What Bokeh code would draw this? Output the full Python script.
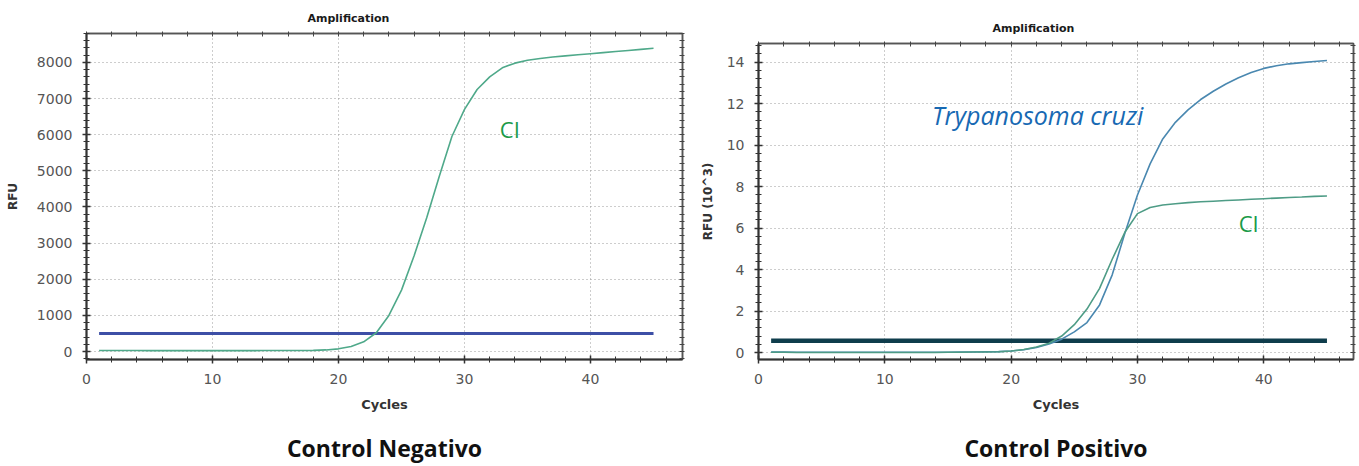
from bokeh.plotting import figure
from bokeh.models import (Range1d, SingleIntervalTicker, FixedTicker, LinearAxis,
                          Label, Spacer)
from bokeh.layouts import row, column
from bokeh.embed import file_html
from bokeh.resources import INLINE

# ---------------- data ----------------
cycles = list(range(1, 46))

# Control Negativo: internal control (CI) curve, RFU
neg_ci = [28, 28, 27, 27, 26, 26, 26, 25, 25, 25, 25, 26, 26, 27, 28,
          29, 30, 33, 45, 75, 140, 270, 520, 1000, 1700, 2650, 3700, 4850,
          5950, 6700, 7250, 7600, 7850, 7980, 8060, 8110, 8150, 8180, 8210,
          8240, 8270, 8300, 8330, 8360, 8390]
neg_threshold = 500

# Control Positivo: RFU (10^3)
pos_tc = [0.03, 0.03, 0.02, 0.02, 0.02, 0.02, 0.02, 0.02, 0.02, 0.02, 0.02,
          0.02, 0.02, 0.02, 0.02, 0.03, 0.03, 0.04, 0.05, 0.08, 0.14, 0.25,
          0.42, 0.65, 1.0, 1.45, 2.3, 3.75, 5.75, 7.6, 9.1, 10.3, 11.1, 11.7,
          12.2, 12.6, 12.95, 13.25, 13.5, 13.7, 13.83, 13.92, 13.98, 14.03,
          14.08]
pos_ci = [0.02, 0.02, 0.01, 0.01, 0.01, 0.01, 0.01, 0.01, 0.01, 0.01, 0.01,
          0.01, 0.01, 0.01, 0.02, 0.02, 0.03, 0.03, 0.04, 0.08, 0.15, 0.27,
          0.45, 0.8, 1.35, 2.1, 3.1, 4.5, 5.8, 6.7, 7.0, 7.12, 7.18, 7.23,
          7.27, 7.3, 7.33, 7.36, 7.39, 7.42, 7.45, 7.48, 7.5, 7.53, 7.55]
pos_threshold = 0.57

threshold_x = [1, 45]

TICK_FONT = "DejaVu Sans"


def make_panel(width, height, xmax, ymin, ymax, yint, ylabel,
               mb_left, mb_right, mb_top, mb_bottom, ylab_standoff,
               title_offset, caption):
    p = figure(width=width, height=height,
               x_range=Range1d(0, xmax), y_range=Range1d(ymin, ymax),
               output_backend="svg", toolbar_location=None,
               min_border_left=mb_left, min_border_right=mb_right,
               min_border_top=mb_top, min_border_bottom=mb_bottom)
    p.background_fill_color = "white"
    p.border_fill_color = "white"
    p.outline_line_color = "#444444"
    p.outline_line_width = 1.5

    p.title.text = "Amplification"
    p.title.align = "left"
    p.title.offset = title_offset
    p.title.text_font = TICK_FONT
    p.title.text_font_size = "11px"
    p.title.text_font_style = "bold"
    p.title.text_color = "#1a1a1a"
    p.title.standoff = 13

    xt = SingleIntervalTicker(interval=10, num_minor_ticks=5)
    yt = SingleIntervalTicker(interval=yint, num_minor_ticks=5)

    ax = p.xaxis[0]
    ax.ticker = xt
    ax.axis_label = "Cycles"
    ax.axis_label_text_font = TICK_FONT
    ax.axis_label_text_font_size = "13px"
    ax.axis_label_text_font_style = "bold"
    ax.axis_label_text_color = "#333333"
    ax.axis_label_standoff = 10
    ax.major_label_standoff = 10
    ay = p.yaxis[0]
    ay.ticker = yt
    ay.axis_label = ylabel
    ay.axis_label_text_font = TICK_FONT
    ay.axis_label_text_font_size = "12px"
    ay.axis_label_text_font_style = "bold"
    ay.axis_label_text_color = "#333333"
    ay.axis_label_standoff = ylab_standoff
    ay.major_label_standoff = 10
    for a in (ax, ay):
        a.major_label_text_font = TICK_FONT
        a.major_label_text_font_size = "14px"
        a.major_label_text_color = "#555555"
        a.axis_line_color = "#333333"
        a.axis_line_width = 2
        a.major_tick_line_color = "#333333"
        a.minor_tick_line_color = "#333333"
        a.major_tick_line_width = 1.5
        a.major_tick_in = 4
        a.major_tick_out = 4
        a.minor_tick_in = 3
        a.minor_tick_out = 3

    # frame ticks on top and right (tick marks only, no labels)
    top_ticks = [2 * i for i in range(int(xmax / 2) + 1)]
    step = yint / 5.0
    right_ticks = [step * i for i in range(int(ymin / step), int(ymax / step) + 1)]
    for ticks, side in ((top_ticks, "above"), (right_ticks, "right")):
        a = LinearAxis(ticker=FixedTicker(ticks=[], minor_ticks=ticks))
        a.axis_line_color = "#555555"
        a.axis_line_width = 1.5
        a.minor_tick_line_color = "#444444"
        a.minor_tick_in = 3
        a.minor_tick_out = 2
        a.major_tick_in = 0
        a.major_tick_out = 0
        a.major_label_standoff = 0
        p.add_layout(a, side)

    # caption below the chart
    cap = LinearAxis(ticker=FixedTicker(ticks=[]), axis_label=caption)
    cap.axis_line_color = None
    cap.major_tick_in = 0
    cap.major_tick_out = 0
    cap.minor_tick_in = 0
    cap.minor_tick_out = 0
    cap.major_label_standoff = 0
    cap.axis_label_standoff = 17
    cap.axis_label_text_font = "Open Sans"
    cap.axis_label_text_font_size = "23px"
    cap.axis_label_text_font_style = "bold"
    cap.axis_label_text_color = "#111111"
    p.add_layout(cap, "below")

    for g in (p.xgrid[0], p.ygrid[0]):
        g.grid_line_color = "#9a9a9a"
        g.grid_line_dash = "1 3"
        g.grid_line_width = 1
    return p


def add_text(p, x, y, text, size, color, style="normal"):
    p.add_layout(Label(x=x, y=y, text=text, text_color=color,
                       text_font="Open Sans", text_font_size=size,
                       text_font_style=style,
                       text_align="center", text_baseline="middle"))


# -------- left: Control Negativo --------
p1 = make_panel(690, 466, 47.3, -220, 8800, 1000, "RFU",
                86, 8, 33, 106, 14, 221, "Control Negativo")
p1.line(threshold_x, [neg_threshold, neg_threshold], line_color="#3d4fa6", line_width=3)
p1.line(cycles, neg_ci, line_color="#4fa98a", line_width=1.6)
add_text(p1, 33.6, 6160, "CI", "22px", "#1a9a48")

# -------- right: Control Positivo --------
p2 = make_panel(669, 456, 47.1, -0.33, 14.9, 2, "RFU (10^3)",
                68, 6, 33, 106, 9, 234, "Control Positivo")
p2.line(threshold_x, [pos_threshold, pos_threshold], line_color="#0f3d4c", line_width=4.5)
p2.line(cycles, pos_tc, line_color="#4a88b0", line_width=1.6)
p2.line(cycles, pos_ci, line_color="#4e9c86", line_width=1.6)
add_text(p2, 22.1, 11.43, "Trypanosoma cruzi", "25px", "#1769b3", style="italic")
add_text(p2, 38.8, 6.27, "CI", "22px", "#1a9a48")

layout = row(p1, column(Spacer(width=669, height=10), p2))
open("out.html", "w").write(file_html(layout, INLINE))
